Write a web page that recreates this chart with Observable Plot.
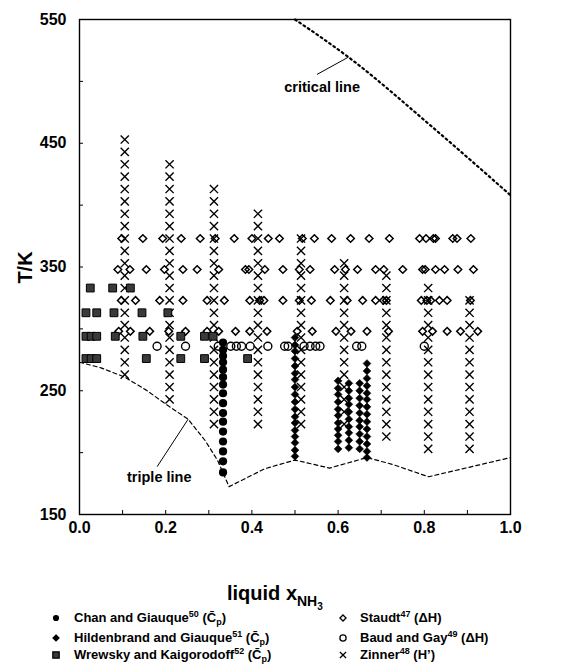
<!DOCTYPE html>
<html><head><meta charset="utf-8">
<script src="https://cdn.jsdelivr.net/npm/d3@7"></script>
<script src="https://cdn.jsdelivr.net/npm/@observablehq/plot@0.6"></script>
<style>
body{margin:0;background:#fff;font-family:"Liberation Sans",Arial,sans-serif;}
#wrap{position:relative;width:563px;height:665px;overflow:hidden;background:#fff;}
#chart{position:absolute;left:0;top:0;}
.lab{position:absolute;font-weight:bold;color:#000;white-space:nowrap;}
.leg{position:absolute;font-weight:bold;font-size:13px;color:#000;white-space:nowrap;line-height:1;}
.leg svg{position:absolute;overflow:visible;}
sup{font-size:9px;vertical-align:5px;line-height:0;}
.sub{font-size:9px;position:relative;top:3px;line-height:0;}
</style></head><body>
<div id="wrap"><div id="chart"></div></div>
<script>
// ---- data ----
const xTickLabels = [0.0, 0.2, 0.4, 0.6, 0.8, 1.0];
const xTicks = [0.1, 0.2, 0.3, 0.4, 0.5, 0.6, 0.7, 0.8, 0.9];
const yTickLabels = [150, 250, 350, 450, 550];
const yTicks = [200, 250, 300, 350, 400, 450, 500];

// Zinner (H') - columns of x and temperatures
const zinnerX = [0.105, 0.209, 0.312, 0.414, 0.514, 0.614, 0.712, 0.809, 0.905];
const zinnerT = [
  [453,443,433,423,413,403,393,383,373,363,353,343,333,323,313,303,293,283,273,263],
  [433,423,413,403,393,383,373,363,353,343,333,323,313,303,293,283,273,263,253,243],
  [413,403,393,383,373,363,353,343,333,323,313,303,293,283,273,263,253,243,233,223],
  [393,383,373,363,353,343,333,323,313,303,293,283,273,263,253,243,233,223],
  [373,363,353,343,333,323,313,303,293,283,273,263,253,243,233,223],
  [353,343,333,323,313,303,293,283,273,263,253,243,233,223],
  [343,333,323,313,303,293,283,273,263,253,243,233,223,213],
  [333,323,313,303,293,283,273,263,253,243,233,223,213,203],
  [323,313,303,293,283,273,263,253,243,233,223,213,203]
];

// Staudt (ΔH) - rows of temperature and x
const staudtT = [373, 348, 323, 298];
const staudtX = [
  [0.098,0.147,0.193,0.236,0.28,0.315,0.359,0.40,0.438,0.464,0.517,0.545,0.585,0.629,0.672,0.719,0.789,0.804,0.821,0.826,0.866,0.876,0.908],
  [0.089,0.117,0.155,0.197,0.24,0.273,0.323,0.385,0.393,0.43,0.472,0.51,0.535,0.592,0.617,0.645,0.687,0.706,0.75,0.796,0.802,0.826,0.847,0.878,0.914],
  [0.097,0.13,0.186,0.24,0.296,0.336,0.395,0.418,0.428,0.472,0.51,0.538,0.582,0.621,0.657,0.687,0.705,0.712,0.793,0.806,0.815,0.835,0.853,0.907],
  [0.091,0.118,0.163,0.207,0.246,0.296,0.323,0.362,0.395,0.435,0.505,0.54,0.595,0.63,0.667,0.717,0.796,0.819,0.853,0.884,0.924]
];

// Baud and Gay (ΔH)
const baudT = 286;
const baudX = [0.18,0.246,0.322,0.351,0.364,0.376,0.396,0.437,0.476,0.484,0.521,0.535,0.548,0.558,0.643,0.655,0.8];

// Wrewsky and Kaigorodoff (Cp)
const wrewskyT = [333, 313, 294, 276];
const wrewskyX = [
  [0.025,0.077,0.118],
  [0.015,0.04,0.08,0.145,0.205],
  [0.015,0.027,0.04,0.083,0.147,0.235,0.29,0.31],
  [0.015,0.027,0.04,0.155,0.235,0.29,0.39]
];

// Chan and Giauque (Cp)
const chanX = 0.333;
const chanT = [289,283,278,273,267,261,255,248,240,232,225,217,209,201,193,184];

// Hildenbrand and Giauque (Cp)
const hildX = [0.5, 0.6, 0.625, 0.65, 0.667];
const hildT = [
  [293,287,282,276,270,264,259,253,247,241,235,229,224,218,213,208,202,197],
  [258,252,247,241,235,230,224,219,214,209,203],
  [256,250,244,239,233,227,221,216,210,204],
  [256,250,244,238,232,226,221,215,209,203],
  [272,266,260,254,248,243,237,231,225,219,213,207,201,196]
];

// Phase boundaries
const tripleX = [0, 0.05, 0.105, 0.155, 0.205, 0.252, 0.291, 0.32, 0.347, 0.43, 0.5, 0.58, 0.667, 0.726, 0.81, 1.0];
const tripleT = [273, 268.5, 261, 250.5, 238, 227, 210, 194, 172.5, 187, 194, 187.5, 196, 190.5, 180.5, 196];
const criticalX = [0.5, 0.624, 0.819, 1.0];
const criticalT = [550, 519.6, 463, 408];

// Annotations
const annText = ["critical line", "triple line"];
const annX = [0.563, 0.185];
const annT = [495, 180];
const leaderX1 = [0.551, 0.18];
const leaderT1 = [505.6, 188.6];
const leaderX2 = [0.624, 0.252];
const leaderT2 = [519.6, 227];

// ---- tables built from the arrays ----
const zinner = zinnerX.flatMap((x, i) => zinnerT[i].map(t => ({x, t})));
const staudt = staudtT.flatMap((t, i) => staudtX[i].map(x => ({x, t})));
const baud = baudX.map(x => ({x, t: baudT}));
const wrewsky = wrewskyT.flatMap((t, i) => wrewskyX[i].map(x => ({x, t})));
const chan = chanT.map(t => ({x: chanX, t}));
const hild = hildX.flatMap((x, i) => hildT[i].map(t => ({x, t})));
const triple = tripleX.map((x, i) => ({x, t: tripleT[i]}));
const critical = criticalX.map((x, i) => ({x, t: criticalT[i]}));
const ann = annText.map((s, i) => ({s, x: annX[i], t: annT[i]}));
const leaders = leaderX1.map((x1, i) => ({x1, y1: leaderT1[i], x2: leaderX2[i], y2: leaderT2[i]}));

const plot = Plot.plot({
  width: 563, height: 545,
  marginLeft: 79, marginRight: 53, marginTop: 19, marginBottom: 31,
  style: {fontFamily: "'Liberation Sans', Arial, sans-serif", fontSize: "15px", fontWeight: "bold", color: "#000", background: "transparent"},
  x: {domain: [0, 1]},
  y: {domain: [150, 550]},
  marks: [
    Plot.line(triple, {x: "x", y: "t", stroke: "#000", strokeWidth: 1.2, strokeDasharray: "4,3"}),
    Plot.line(critical, {x: "x", y: "t", curve: "monotone-x", stroke: "#000", strokeWidth: 2.2, strokeDasharray: "1.8,3.4"}),
    Plot.link(leaders, {x1: "x1", y1: "y1", x2: "x2", y2: "y2", stroke: "#000", strokeWidth: 1}),
    Plot.text(ann, {x: "x", y: "t", text: "s", fontSize: 14.5, fontWeight: "bold", fill: "#000"}),
    Plot.dot(zinner, {x: "x", y: "t", symbol: "times", r: 3.8, stroke: "#000", strokeWidth: 1.4}),
    Plot.dot(staudt, {x: "x", y: "t", symbol: "diamond2", r: 3.4, stroke: "#000", strokeWidth: 1.5, fill: "none"}),
    Plot.dot(baud, {x: "x", y: "t", symbol: "circle", r: 4, stroke: "#000", strokeWidth: 1.4, fill: "none"}),
    Plot.dot(wrewsky, {x: "x", y: "t", symbol: "square", r: 4.4, fill: "#3a3a3a", stroke: "#000", strokeWidth: 1}),
    Plot.dot(chan, {x: "x", y: "t", symbol: "circle", r: 4.1, fill: "#000", stroke: "none"}),
    Plot.dot(hild, {x: "x", y: "t", symbol: "diamond2", r: 3.5, fill: "#000", stroke: "#000", strokeWidth: 0.6}),
    Plot.axisX({ticks: xTicks, tickSize: -4, tickFormat: () => "", label: null}),
    Plot.axisX({ticks: xTickLabels, tickSize: 0, tickPadding: 7, tickFormat: d => d.toFixed(1), fontSize: 16, fontWeight: "bold", label: null}),
    Plot.axisY({ticks: yTicks, tickSize: -4, tickFormat: () => "", label: null}),
    Plot.axisY({ticks: yTickLabels, tickSize: 0, tickPadding: 13, tickFormat: d => String(d), fontSize: 16, fontWeight: "bold", label: null}),
    Plot.frame({stroke: "#000", strokeWidth: 1.4})
  ]
});
document.getElementById("chart").appendChild(plot);

const wrap = document.getElementById("wrap");
function addLab(html, css) {
  const d = document.createElement("div");
  d.className = "lab";
  d.innerHTML = html;
  Object.assign(d.style, css);
  wrap.appendChild(d);
  return d;
}
// axis titles
addLab("T/K", {left: "9px", top: "256px", fontSize: "20px", transform: "rotate(-90deg)", transformOrigin: "center"});
addLab('liquid x<span style="font-size:14px;position:relative;top:6px">NH<span style="font-size:10px;position:relative;top:4px">3</span></span>',
  {left: "227px", top: "582px", fontSize: "20px"});

// legend
const legendNames = [
  'Chan and Giauque<sup>50</sup> (C&#772;<span class="sub">p</span>)',
  'Hildenbrand and Giauque<sup>51</sup> (C&#772;<span class="sub">p</span>)',
  'Wrewsky and Kaigorodoff<sup>52</sup> (C&#772;<span class="sub">p</span>)',
  'Staudt<sup>47</sup> (&Delta;H)',
  'Baud and Gay<sup>49</sup> (&Delta;H)',
  'Zinner<sup>48</sup> (H&rsquo;)'
];
const legendSym = [
  {type: d3.symbolCircle, size: 30, fill: "#000", stroke: "none"},
  {type: d3.symbolDiamond2, size: 22, fill: "#000", stroke: "#000"},
  {type: d3.symbolSquare, size: 40, fill: "#3a3a3a", stroke: "#000"},
  {type: d3.symbolDiamond2, size: 24, fill: "none", stroke: "#000"},
  {type: d3.symbolCircle, size: 30, fill: "none", stroke: "#000"},
  {type: d3.symbolTimes, size: 26, fill: "none", stroke: "#000"}
];
const legCol = [[56, 74], [343, 360]];
const legRow = [618, 638, 655];
legendNames.forEach((name, i) => {
  const col = Math.floor(i / 3), row = i % 3;
  const d = document.createElement("div");
  d.className = "leg";
  d.style.left = legCol[col][0] + "px";
  d.style.top = legRow[row] + "px";
  const s = legendSym[i];
  const p = d3.symbol(s.type, s.size)();
  d.innerHTML = `<svg width="1" height="1" style="left:0;top:0"><path d="${p}" fill="${s.fill}" stroke="${s.stroke}" stroke-width="1.3"/></svg>` +
    `<span style="position:absolute;left:${legCol[col][1] - legCol[col][0]}px;top:-7px">${name}</span>`;
  wrap.appendChild(d);
});
</script>
</body></html>
